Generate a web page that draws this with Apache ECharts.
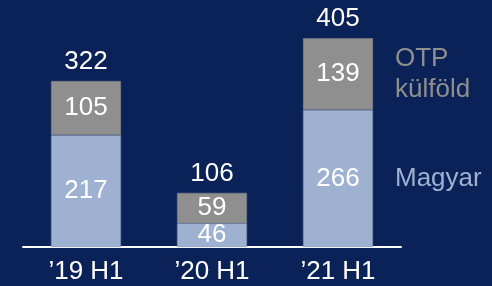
<!DOCTYPE html>
<html>
<head>
<meta charset="utf-8">
<script src="https://cdn.jsdelivr.net/npm/echarts@6/dist/echarts.min.js"></script>
<style>
  html, body { margin: 0; padding: 0; background: #0a2257; }
  #chart { width: 492px; height: 286px; }
</style>
</head>
<body>
<div id="chart"></div>
<script>
const categories = ['\u201919 H1', '\u201920 H1', '\u201921 H1']
const magyar = [217, 46, 266]
const kulfold = [105, 59, 139]
const totals = [322, 106, 405]
const seriesNames = ['Magyar', 'OTP\nkülföld']

const bgColor = '#0a2257'
const blueColor = '#9fb1d1'
const greyColor = '#8f8f8f'
const font = 'Liberation Sans, Arial, sans-serif'
const fontSize = 26

const chart = echarts.init(document.getElementById('chart'))

const insideLabel = {
  show: true,
  position: 'inside',
  color: '#ffffff',
  fontSize: fontSize,
  fontFamily: font
}

chart.setOption({
  backgroundColor: bgColor,
  animation: false,
  grid: { left: 23, right: 91, top: 15, bottom: 39 },
  xAxis: {
    type: 'category',
    data: categories,
    axisLine: { show: true, lineStyle: { color: '#ffffff', width: 2 } },
    axisTick: { show: false },
    axisLabel: { color: '#ffffff', fontSize: fontSize, fontFamily: font, margin: 12 }
  },
  yAxis: {
    type: 'value',
    min: 0,
    max: 450,
    show: false
  },
  series: [
    {
      name: seriesNames[0],
      type: 'bar',
      stack: 'total',
      barWidth: 70,
      data: magyar,
      itemStyle: { color: blueColor, borderColor: '#7d8fb0', borderWidth: 0.6 },
      label: insideLabel
    },
    {
      name: seriesNames[1],
      type: 'bar',
      stack: 'total',
      barWidth: 70,
      data: kulfold,
      itemStyle: { color: greyColor, borderColor: '#7a7f8a', borderWidth: 0.6 },
      label: insideLabel
    },
    {
      name: 'total',
      type: 'bar',
      stack: 'total',
      barWidth: 70,
      data: totals.map(() => 0),
      itemStyle: { color: 'transparent' },
      label: {
        show: true,
        position: 'top',
        distance: 6,
        color: '#ffffff',
        fontSize: fontSize,
        fontFamily: font,
        formatter: (p) => String(totals[p.dataIndex])
      }
    }
  ]
})

// series names written beside the last bar, centred on each segment
const last = categories.length - 1
const xRight = chart.convertToPixel({ xAxisIndex: 0 }, last) + 35 + 22
const yBlue = chart.convertToPixel({ yAxisIndex: 0 }, magyar[last] / 2)
const yGrey = chart.convertToPixel({ yAxisIndex: 0 }, magyar[last] + kulfold[last] / 2)

chart.setOption({
  graphic: [
    {
      type: 'text',
      x: xRight,
      y: yGrey,
      style: {
        text: seriesNames[1],
        fill: greyColor,
        fontSize: fontSize,
        fontFamily: font,
        lineHeight: 31,
        align: 'left',
        verticalAlign: 'middle'
      }
    },
    {
      type: 'text',
      x: xRight,
      y: yBlue,
      style: {
        text: seriesNames[0],
        fill: blueColor,
        fontSize: fontSize,
        fontFamily: font,
        align: 'left',
        verticalAlign: 'middle'
      }
    }
  ]
})
</script>
</body>
</html>
